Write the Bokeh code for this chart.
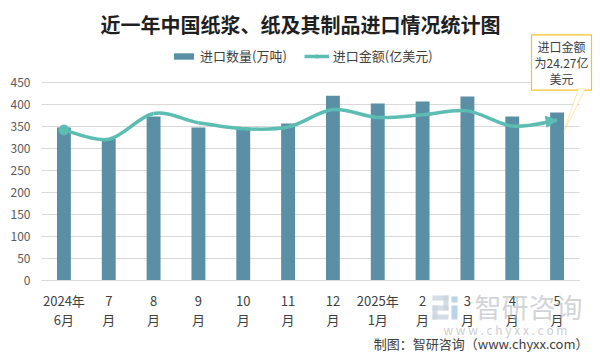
import numpy as np
from bokeh.plotting import figure
from bokeh.models import (Range1d, FixedTicker, Label, Legend, LegendItem, Arrow,
                          NormalHead, PolyAnnotation)
from bokeh.embed import file_html
from bokeh.resources import INLINE

# ---- data ----
months = ["2024年\n6月", "7\n月", "8\n月", "9\n月", "10\n月", "11\n月",
          "12\n月", "2025年\n1月", "2\n月", "3\n月", "4\n月", "5\n月"]
quantity = [348, 322, 373, 348, 347, 357, 420, 402, 407, 418, 373, 382]   # 万吨
amount = [22.8, 21.4, 25.3, 23.9, 23.0, 23.25, 25.9, 24.7, 25.1, 25.7, 23.4, 24.27]  # 亿美元
y_ticks = [0, 50, 100, 150, 200, 250, 300, 350, 400, 450]
Y_MAX = 450
AMT_MAX = 30

FONT = "Noto Sans CJK SC"
BAR_C = "#5B8FA6"
LINE_C = "#5CBDB2"
GOLD = "#F5C325"

W, H = 600, 356
# plot area (in figure pixels): left, right, top, bottom
PL, PR, PT, PB = 41, 579, 82, 280

n = len(months)
xs = [i + 0.5 for i in range(n)]

ux = (PR - PL) / n            # px per category
uy = (PB - PT) / Y_MAX        # px per unit
x_range = Range1d(-PL / ux, n + (W - PR) / ux)
y_range = Range1d(-(H - PB) / uy, Y_MAX + PT / uy)

p = figure(width=W, height=H, output_backend="svg", toolbar_location=None,
           x_range=x_range, y_range=y_range, min_border=0)
p.extra_y_ranges = {"amt": Range1d(y_range.start * AMT_MAX / Y_MAX, y_range.end * AMT_MAX / Y_MAX),
                    "py": Range1d(H, 0)}
p.extra_x_ranges = {"px": Range1d(0, W)}
p.outline_line_color = None
p.background_fill_color = "white"
p.border_fill_color = "white"
p.xgrid.visible = False
p.ygrid.visible = False

# horizontal grid lines over the plot area
p.segment(x0=[0] * len(y_ticks), x1=[n] * len(y_ticks), y0=y_ticks, y1=y_ticks,
          line_color="#D9D9D9", line_width=1)

# axes drawn at fixed locations
p.yaxis.fixed_location = 0
p.yaxis.ticker = FixedTicker(ticks=y_ticks)
p.yaxis.axis_line_color = None
p.yaxis.major_tick_line_color = None
p.yaxis.minor_tick_line_color = None
p.yaxis.major_label_standoff = 5
p.yaxis.major_label_text_font = FONT
p.yaxis.major_label_text_font_size = "12px"
p.yaxis.major_label_text_color = "#595959"

p.xaxis.fixed_location = 0
p.xaxis.bounds = (0, n)
p.xaxis.ticker = FixedTicker(ticks=xs)
p.xaxis.major_label_overrides = {x: m for x, m in zip(xs, months)}
p.xaxis.axis_line_color = "#D9D9D9"
p.xaxis.major_tick_line_color = None
p.xaxis.minor_tick_line_color = None
p.xaxis.major_label_standoff = 4
p.xaxis.major_label_text_font = FONT
p.xaxis.major_label_text_font_size = "13px"
p.xaxis.major_label_text_color = "#404040"
p.xaxis.major_label_text_line_height = 1.04

# bars
bars = p.vbar(x=xs, top=quantity, width=0.31, fill_color=BAR_C, line_color=None)

# smooth line (cubic Bezier through the data points)
x0, y0, x1, y1, cx0, cy0, cx1, cy1 = [], [], [], [], [], [], [], []
for i in range(n - 1):
    pa = (xs[max(i - 1, 0)], amount[max(i - 1, 0)])
    pb = (xs[i], amount[i])
    pc = (xs[i + 1], amount[i + 1])
    pd = (xs[min(i + 2, n - 1)], amount[min(i + 2, n - 1)])
    x0.append(pb[0]); y0.append(pb[1]); x1.append(pc[0]); y1.append(pc[1])
    cx0.append(pb[0] + (pc[0] - pa[0]) / 6); cy0.append(pb[1] + (pc[1] - pa[1]) / 6)
    cx1.append(pc[0] - (pd[0] - pb[0]) / 6); cy1.append(pc[1] - (pd[1] - pb[1]) / 6)
curve = p.bezier(x0=x0, y0=y0, x1=x1, y1=y1, cx0=cx0, cy0=cy0, cx1=cx1, cy1=cy1,
                 line_color=LINE_C, line_width=3.5, y_range_name="amt")
first_pt = p.scatter(x=[xs[0]], y=[amount[0]], size=10, marker="circle", fill_color=LINE_C,
                     line_color=LINE_C, y_range_name="amt")
p.add_layout(Arrow(x_start=cx1[-1], y_start=cy1[-1], x_end=xs[-1], y_end=amount[-1],
                   line_alpha=0, y_range_name="amt",
                   end=NormalHead(size=11, fill_color=LINE_C, line_color=LINE_C)))

# legend
dl = p.line(x=[-30, -29], y=[-5000, -5000], line_color=LINE_C, line_width=3.5)
legend = Legend(items=[LegendItem(label="进口数量(万吨)", renderers=[bars]),
                       LegendItem(label="进口金额(亿美元)", renderers=[dl, first_pt])],
                location=(171, 291), orientation="horizontal",
                glyph_width=25, glyph_height=8, label_height=15, label_standoff=4,
                spacing=17, padding=0, margin=0,
                border_line_color=None, background_fill_alpha=0,
                label_text_font=FONT, label_text_font_size="13px", label_text_color="#404040")
p.add_layout(legend)

# title
p.add_layout(Label(x=300, y=332, x_units="screen", y_units="screen",
                   text="近一年中国纸浆、纸及其制品进口情况统计图",
                   text_align="center", text_baseline="middle",
                   text_font=FONT, text_font_size="20px", text_font_style="bold",
                   text_color="#1F1F1F"))

# callout annotation
p.add_layout(Label(x=561, y=294, x_units="screen", y_units="screen",
                   text="进口金额\n为%.2f亿\n美元" % amount[-1],
                   text_align="center", text_baseline="middle",
                   text_font=FONT, text_font_size="12px", text_color="#404040",
                   text_line_height=0.95,
                   background_fill_color="white", border_line_color=GOLD,
                   border_line_width=1.2, padding=3))
p.add_layout(PolyAnnotation(xs=[578, 585, 563], ys=[268, 268, 224],
                            xs_units="screen", ys_units="screen",
                            fill_color="white", fill_alpha=1, line_color=GOLD, line_width=1.2))

# watermark logo (page pixel coordinates, y downwards)
p.quad(left=[432, 443, 432, 432, 432], right=[448, 448, 448, 437, 448],
       top=[295, 295, 305, 305, 314], bottom=[300, 310, 310, 319, 319],
       x_range_name="px", y_range_name="py", fill_color="#C9D3DE", line_color=None, fill_alpha=0.8)
p.quad(left=[451, 451], right=[457, 457], top=[296, 305], bottom=[302, 319],
       x_range_name="px", y_range_name="py", fill_color="#A9C8E4", line_color=None, fill_alpha=0.8)

# watermark & source
p.add_layout(Label(x=528, y=50, x_units="screen", y_units="screen", text="智研咨询",
                   text_align="center", text_baseline="middle", text_font=FONT,
                   text_font_size="27px", text_color="#B4B8BD", text_alpha=0.6))
p.add_layout(Label(x=505, y=27, x_units="screen", y_units="screen",
                   text="w w w . c h y x x . c o m",
                   text_align="center", text_baseline="middle", text_font=FONT,
                   text_font_size="12px", text_color="#B4B8BD", text_alpha=0.7))
p.add_layout(Label(x=588, y=13, x_units="screen", y_units="screen",
                   text="制图：智研咨询（www.chyxx.com）",
                   text_align="right", text_baseline="middle", text_font=FONT,
                   text_font_size="13px", text_color="#404040"))

open("out.html", "w").write(file_html(p, INLINE))
